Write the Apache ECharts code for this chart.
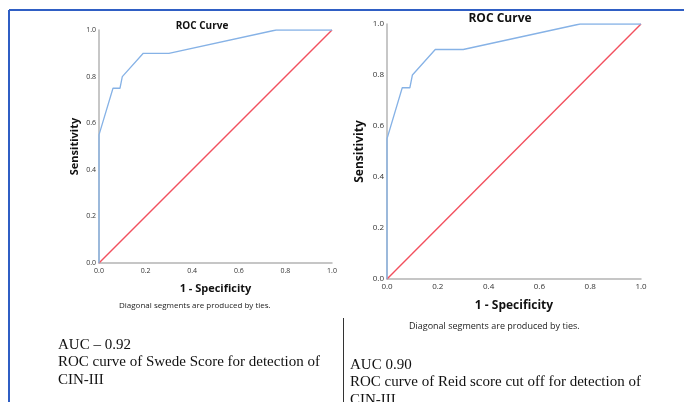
<!DOCTYPE html>
<html>
<head>
<meta charset="utf-8">
<script src="https://cdn.jsdelivr.net/npm/echarts@6/dist/echarts.min.js"></script>
<style>
  html, body { margin: 0; padding: 0; background: #fff; }
  #chart { width: 684px; height: 402px; }
</style>
</head>
<body>
<div id="chart"></div>
<script>
// 1 - specificity (shared x) and sensitivity for each score
const fprSwede = [0, 0, 0.06, 0.09, 0.10, 0.19, 0.30, 0.76, 1.0]
const tprSwede = [0, 0.55, 0.75, 0.75, 0.80, 0.90, 0.90, 1.0, 1.0]
const fprReid = [0, 0, 0.06, 0.09, 0.10, 0.19, 0.30, 0.76, 1.0]
const tprReid = [0, 0.55, 0.75, 0.75, 0.80, 0.90, 0.90, 1.0, 1.0]
const refLine = [0, 1]
const ticks = [0, 0.2, 0.4, 0.6, 0.8, 1.0]

const sansFont = 'Open Sans'

const pairs = (xs, ys) => xs.map((x, i) => [x, ys[i]])

// axis helper, same look on both panels
const axis = (idx, name, gap, size, tickSize, isY) => ({
    type: 'value',
    gridIndex: idx,
    min: ticks[0],
    max: ticks[ticks.length - 1],
    interval: 0.2,
    name: name,
    nameLocation: 'middle',
    nameGap: gap,
    nameTextStyle: { fontFamily: sansFont, fontWeight: 'bold', fontSize: size, color: '#111' },
    axisLine: { show: true, onZero: false, lineStyle: { color: '#b4b4b4', width: 1.5 } },
    axisTick: { show: false },
    splitLine: { show: false },
    axisLabel: {
        fontFamily: sansFont, fontSize: tickSize, color: '#333',
        margin: isY ? 3 : 4,
        formatter: v => v.toFixed(1)
    }
})

const diag = (idx) => ({
    type: 'line', xAxisIndex: idx, yAxisIndex: idx, symbol: 'none', z: 2,
    lineStyle: { color: '#f2505e', width: 1.4 }, data: pairs(refLine, refLine)
})
const roc = (idx, xs, ys) => ({
    type: 'line', xAxisIndex: idx, yAxisIndex: idx, symbol: 'none', z: 3,
    lineStyle: { color: '#86b2e6', width: 1.3 }, data: pairs(xs, ys)
})

let option = {
    animation: false,
    backgroundColor: '#fff',
    title: [
        { text: 'ROC Curve', left: 197, top: 16, textAlign: 'center',
          textStyle: { fontFamily: sansFont, fontWeight: 'bold', fontSize: 10, color: '#111' } },
        { text: 'ROC Curve', left: 495, top: 8, textAlign: 'center',
          textStyle: { fontFamily: sansFont, fontWeight: 'bold', fontSize: 12, color: '#111' } }
    ],
    grid: [
        { left: 99, top: 30, width: 233, height: 233 },
        { left: 387, top: 24, width: 254, height: 255 }
    ],
    xAxis: [
        axis(0, '1 - Specificity', 20, 11, 7, false),
        axis(1, '1 - Specificity', 21, 12, 8, false)
    ],
    yAxis: [
        axis(0, 'Sensitivity', 19, 11, 7, true),
        axis(1, 'Sensitivity', 21, 12, 8, true)
    ],
    series: [
        diag(0),
        roc(0, fprSwede, tprSwede),
        diag(1),
        roc(1, fprReid, tprReid)
    ],
    graphic: [
        // page frame
        { type: 'line', shape: { x1: 9, y1: 10, x2: 684, y2: 10 }, style: { stroke: '#2f5ec4', lineWidth: 2 } },
        { type: 'line', shape: { x1: 9, y1: 10, x2: 9, y2: 402 }, style: { stroke: '#2f5ec4', lineWidth: 2 } },
        { type: 'line', shape: { x1: 343.5, y1: 318, x2: 343.5, y2: 402 }, style: { stroke: '#333', lineWidth: 1 } },
        // footnotes
        { type: 'text', left: 119, top: 302,
          style: { text: 'Diagonal segments are produced by ties.', font: '8px "Open Sans"', fill: '#222' } },
        { type: 'text', left: 409, top: 322,
          style: { text: 'Diagonal segments are produced by ties.', font: '9px "Open Sans"', fill: '#222' } },
        // captions
        { type: 'text', left: 58, top: 336,
          style: { text: 'AUC – 0.92\nROC curve of Swede Score for detection of\nCIN-III',
                   font: '15px "Liberation Serif"', lineHeight: 17.5, fill: '#111' } },
        { type: 'text', left: 350, top: 356,
          style: { text: 'AUC 0.90\nROC curve of Reid score cut off for detection of\nCIN-III',
                   font: '15px "Liberation Serif"', lineHeight: 17.5, fill: '#111' } }
    ]
}

const chart = echarts.init(document.getElementById('chart'))
chart.setOption(option)
</script>
</body>
</html>
